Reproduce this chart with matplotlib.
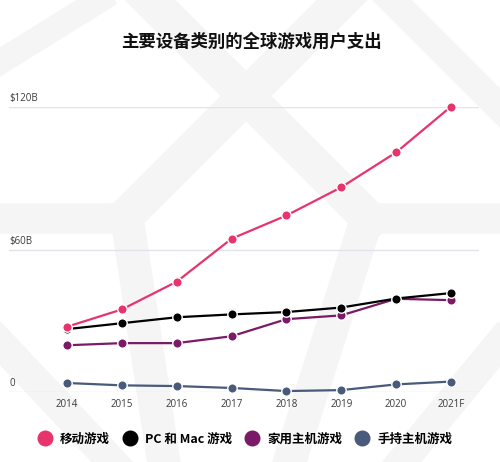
import matplotlib
matplotlib.use("Agg")
import matplotlib.pyplot as plt
from matplotlib.lines import Line2D

years = ["2014", "2015", "2016", "2017", "2018", "2019", "2020", "2021F"]
mobile = [27.5, 34.8, 46.5, 64.6, 74.4, 86.3, 101.0, 120.3]
pc_mac = [26.5, 29.0, 31.5, 32.7, 33.7, 35.6, 39.4, 41.7]
console = [19.7, 20.6, 20.6, 23.5, 30.7, 32.3, 39.3, 38.7]
handheld = [3.8, 2.8, 2.5, 1.7, 0.4, 0.8, 3.2, 4.4]
series_names = ["移动游戏", "PC 和 Mac 游戏", "家用主机游戏", "手持主机游戏"]
series_colors = ["#e8346c", "#000000", "#7b1a66", "#4a5a7b"]
ytick_vals = [0, 60, 120]
ytick_labels = ["0", "$60B", "$120B"]
title = "主要设备类别的全球游戏用户支出"

fam = ["Noto Sans CJK SC", "DejaVu Sans"]
plt.rcParams["font.family"] = fam

W, H = 500, 462
fig = plt.figure(figsize=(W / 100, H / 100), dpi=100)
fig.patch.set_facecolor("white")

# decorative background bands (light grey lattice)
bg_bands = [
    ([(0, 62), (100, 0)], 18),
    ([(150, 0), (370, 220)], 26),
    ([(342, 0), (125, 217)], 26),
    ([(392, 0), (520, 128)], 20),
    ([(-10, 218), (128, 218)], 22),
    ([(366, 218), (510, 218)], 22),
    ([(127, 218), (165, 470)], 24),
    ([(367, 218), (287, 470)], 24),
    ([(0, 343), (120, 470)], 22),
    ([(500, 343), (395, 470)], 22),
]
for pts, lw in bg_bands:
    xs = [p[0] / W for p in pts]
    ys = [1 - p[1] / H for p in pts]
    fig.add_artist(Line2D(xs, ys, transform=fig.transFigure, color="#f5f5f6",
                          lw=lw, solid_capstyle="projecting", zorder=-10))

ax = fig.add_axes([9 / W, (H - 392) / H, (479 - 9) / W, (392 - 107.3) / H])
ax.set_facecolor("none")
x = list(range(len(years)))
ax.set_xlim(-1.057, 7.51)
ax.set_ylim(0, 120)

for vals, c, z in zip([handheld, console, pc_mac, mobile], series_colors[::-1], [3, 4, 5, 6]):
    ax.plot(x, vals, color=c, lw=1.6, marker="o", ms=6.8, mfc=c, mec="white", mew=1.0,
            clip_on=False, zorder=z)

for v, lab in zip(ytick_vals, ytick_labels):
    ax.axhline(v, color="#e3e3ec", lw=1, zorder=1)
    ax.text(0, v + 1.2, lab, transform=ax.get_yaxis_transform(), ha="left", va="bottom",
            fontsize=7, color="#3a3a3a", family=["Open Sans", "DejaVu Sans"])

ax.set_yticks([])
ax.set_xticks(x)
ax.set_xticklabels(years, fontsize=7, color="#3a3a3a", family=["Open Sans", "DejaVu Sans"])
ax.tick_params(axis="x", length=0, pad=5)
for s in ax.spines.values():
    s.set_visible(False)

fig.text(251 / W, 1 - 42 / H, title, ha="center", va="center", fontsize=12.5,
         fontweight="bold", color="#111111")

handles = [Line2D([], [], ls="none", marker="o", ms=10.5, color=c, mec=c) for c in series_colors]
fig.legend(handles, series_names, loc="center", bbox_to_anchor=(245 / W, 1 - 439 / H), ncol=4,
           frameon=False, prop={"family": fam, "weight": "bold", "size": 9},
           handletextpad=0.6, columnspacing=1.0, handlelength=1.2)

fig.savefig("out.png", dpi=100, facecolor="white")
